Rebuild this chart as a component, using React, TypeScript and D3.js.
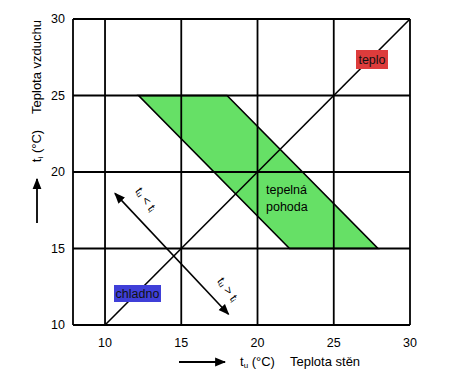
import React from "react";
import * as d3 from "d3";

const ticks = [10, 15, 20, 25, 30];
const diagonal = [[10, 10], [30, 30]];
const comfortZone = [[12.2, 25], [18, 25], [27.9, 15], [22.1, 15]];
const arrowEnds = [[10.65, 18.6], [18.1, 10.7]];
const labelWarm = { text: "teplo", x: 27.3, y: 27.5 };
const labelCold = { text: "chladno", x: 10.6, y: 12.0 };

const W = 468, H = 377;
const x = d3.scaleLinear().domain([7.9, 30]).range([73, 410]);
const y = d3.scaleLinear().domain([10, 30]).range([325, 19]);

export default function App() {
  const line = d3.line<number[]>().x(d => x(d[0])).y(d => y(d[1]));
  const font = "Liberation Sans, Arial, sans-serif";
  const a0 = arrowEnds[0], a1 = arrowEnds[1];
  return (
    <svg width={W} height={H} style={{ position: "absolute", left: 0, top: 0, background: "#fff" }} fontFamily={font}>
      <defs>
        <marker id="ah2" viewBox="0 0 10 10" refX="9" refY="5" markerWidth="11" markerHeight="11" orient="auto-start-reverse" markerUnits="userSpaceOnUse">
          <path d="M0,1 L10,5 L0,9 Z" fill="#000" />
        </marker>
      </defs>
      <path d={line(comfortZone as any)! + "Z"} fill="#66e066" stroke="#000" strokeWidth={1.6} />
      {ticks.map(t => (
        <line key={"v" + t} x1={x(t)} x2={x(t)} y1={y(10)} y2={y(30)} stroke="#000" strokeWidth={1.8} />
      ))}
      {ticks.map(t => (
        <line key={"h" + t} x1={x(7.9)} x2={x(30)} y1={y(t)} y2={y(t)} stroke="#000" strokeWidth={1.8} />
      ))}
      <line x1={x(7.9)} x2={x(7.9)} y1={y(10)} y2={y(30)} stroke="#000" strokeWidth={1.8} />
      <path d={line(diagonal as any)!} stroke="#000" strokeWidth={1.6} fill="none" />
      <line x1={x(a0[0])} y1={y(a0[1])} x2={x(a1[0])} y2={y(a1[1])} stroke="#000" strokeWidth={1.6}
        markerStart="url(#ah2)" markerEnd="url(#ah2)" />
      <text x={145} y={200} fontSize={12} textAnchor="middle" dominantBaseline="middle" transform="rotate(55,145,200)">
        t<tspan fontSize={8} dy={2}>u</tspan><tspan dy={-2}> &lt; t</tspan><tspan fontSize={8} dy={2}>i</tspan>
      </text>
      <text x={227} y={290} fontSize={12} textAnchor="middle" dominantBaseline="middle" transform="rotate(55,227,290)">
        t<tspan fontSize={8} dy={2}>u</tspan><tspan dy={-2}> &gt; t</tspan><tspan fontSize={8} dy={2}>i</tspan>
      </text>
      <text x={266} y={194} fontSize={12.5}>tepelná</text>
      <text x={266} y={211} fontSize={12.5}>pohoda</text>
      <rect x={356} y={50} width={32} height={19} fill="#dd3c3c" />
      <text x={372} y={64} fontSize={12.5} textAnchor="middle" fill="#111">{labelWarm.text}</text>
      <rect x={114} y={285} width={47} height={17} fill="#3f3fd8" />
      <text x={137.5} y={298} fontSize={12.5} textAnchor="middle" fill="#111">{labelCold.text}</text>
      {ticks.map(t => (
        <text key={"yl" + t} x={65} y={y(t)} fontSize={12.5} textAnchor="end" dominantBaseline="central">{t}</text>
      ))}
      {ticks.map(t => (
        <text key={"xl" + t} x={x(t)} y={343} fontSize={12.5} textAnchor="middle" dominantBaseline="central">{t}</text>
      ))}
      <text transform="translate(41,67) rotate(-90)" fontSize={13} textAnchor="middle">Teplota vzduchu</text>
      <text transform="translate(41,146) rotate(-90)" fontSize={13} textAnchor="middle">
        t<tspan fontSize={8} dy={2}>i</tspan><tspan dy={-2}> (°C)</tspan>
      </text>
      <line x1={37} y1={223} x2={37} y2={179} stroke="#000" strokeWidth={1.8} markerEnd="url(#ah2)" />
      <line x1={179} y1={362} x2={225} y2={362} stroke="#000" strokeWidth={1.8} markerEnd="url(#ah2)" />
      <text x={240} y={366} fontSize={13}>
        t<tspan fontSize={8} dy={2}>u</tspan><tspan dy={-2}> (°C)</tspan>
      </text>
      <text x={290} y={366} fontSize={13}>Teplota stěn</text>
    </svg>
  );
}
